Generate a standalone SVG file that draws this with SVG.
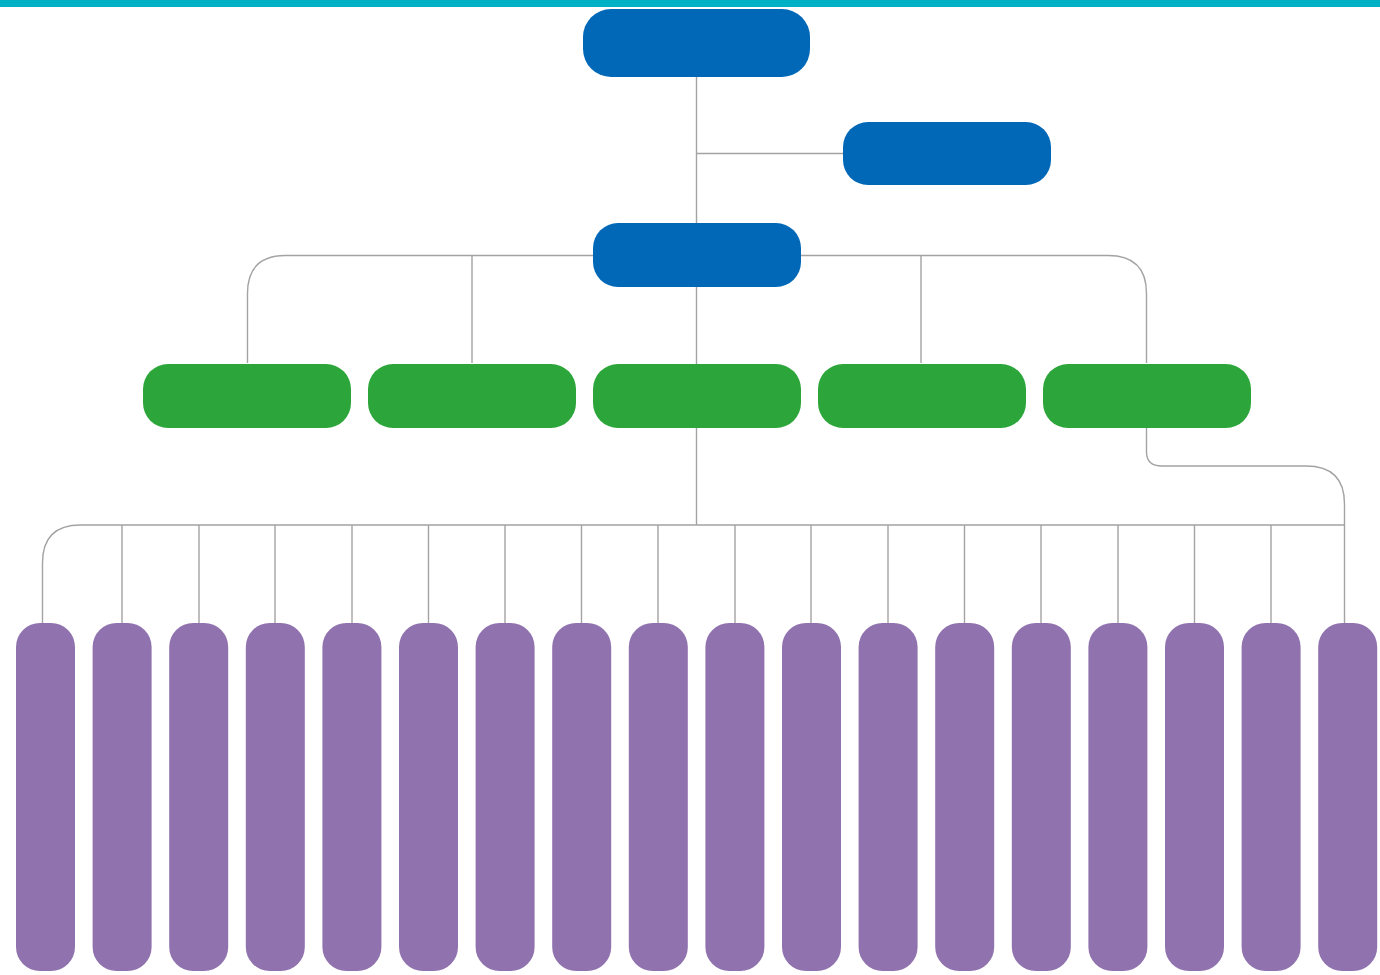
<svg xmlns="http://www.w3.org/2000/svg" width="1380" height="975" viewBox="0 0 1380 975">
<style>
.b{fill:#0068b7}.g{fill:#2ca63a}.p{fill:#9072ae}
.c{fill:none;stroke:#a3a3a3;stroke-width:1.4}
</style>
<rect width="1380" height="975" fill="#fff"/>
<rect x="0" y="0" width="1380" height="7" fill="#00b1c6"/>
<g id="connectors" class="c">
<path d="M696.5 77V525"/>
<path d="M696.5 153.5H843"/>
<path d="M247.5 363V293.5Q247.5 255.5 285.5 255.5H1108Q1146.5 255.5 1146.5 293.5V363"/>
<path d="M472 255.5V363M921 255.5V363"/>
<path d="M42.5 623V563Q42.5 525 80.5 525H1344.5"/>
<path d="M1146.5 428V452Q1146.5 466 1162 466H1306Q1344.5 466 1344.5 504V623"/>
<path d="M122 525V623M199 525V623M275 525V623M352 525V623M428.5 525V623M505 525V623M581.5 525V623M658 525V623M735 525V623M811 525V623M888 525V623M964.5 525V623M1041 525V623M1118 525V623M1194.5 525V623M1271 525V623"/>
</g>
<g id="n1"><rect class="b" x="583" y="9" width="227" height="68" rx="28"/></g>
<g id="n2"><rect class="b" x="843" y="122" width="208" height="63" rx="25"/></g>
<g id="n3"><rect class="b" x="593" y="223" width="208" height="64" rx="25"/></g>
<g id="g1"><rect class="g" x="143" y="364" width="208" height="64" rx="25"/></g>
<g id="g2"><rect class="g" x="368" y="364" width="208" height="64" rx="25"/></g>
<g id="g3"><rect class="g" x="593" y="364" width="208" height="64" rx="25"/></g>
<g id="g4"><rect class="g" x="818" y="364" width="208" height="64" rx="25"/></g>
<g id="g5"><rect class="g" x="1043" y="364" width="208" height="64" rx="25"/></g>
<g id="p1"><rect class="p" x="16" y="623" width="59" height="348" rx="24"/></g>
<g id="p2"><rect class="p" x="92.6" y="623" width="59" height="348" rx="24"/></g>
<g id="p3"><rect class="p" x="169.2" y="623" width="59" height="348" rx="24"/></g>
<g id="p4"><rect class="p" x="245.8" y="623" width="59" height="348" rx="24"/></g>
<g id="p5"><rect class="p" x="322.4" y="623" width="59" height="348" rx="24"/></g>
<g id="p6"><rect class="p" x="399" y="623" width="59" height="348" rx="24"/></g>
<g id="p7"><rect class="p" x="475.6" y="623" width="59" height="348" rx="24"/></g>
<g id="p8"><rect class="p" x="552.2" y="623" width="59" height="348" rx="24"/></g>
<g id="p9"><rect class="p" x="628.8" y="623" width="59" height="348" rx="24"/></g>
<g id="p10"><rect class="p" x="705.4" y="623" width="59" height="348" rx="24"/></g>
<g id="p11"><rect class="p" x="782" y="623" width="59" height="348" rx="24"/></g>
<g id="p12"><rect class="p" x="858.6" y="623" width="59" height="348" rx="24"/></g>
<g id="p13"><rect class="p" x="935.2" y="623" width="59" height="348" rx="24"/></g>
<g id="p14"><rect class="p" x="1011.8" y="623" width="59" height="348" rx="24"/></g>
<g id="p15"><rect class="p" x="1088.4" y="623" width="59" height="348" rx="24"/></g>
<g id="p16"><rect class="p" x="1165" y="623" width="59" height="348" rx="24"/></g>
<g id="p17"><rect class="p" x="1241.6" y="623" width="59" height="348" rx="24"/></g>
<g id="p18"><rect class="p" x="1318.2" y="623" width="59" height="348" rx="24"/></g>
</svg>
